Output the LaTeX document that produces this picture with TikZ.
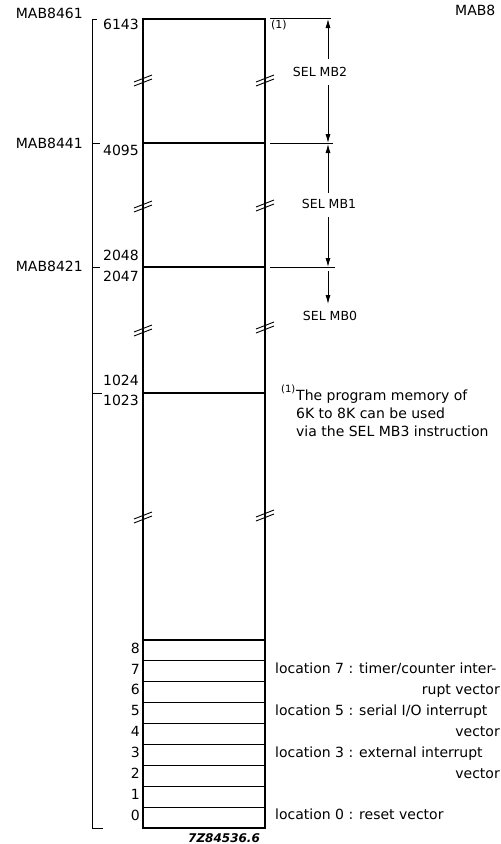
\documentclass[tikz,border=0pt]{standalone}
\usepackage{fontspec}
\setmainfont{DejaVu Sans}
\usetikzlibrary{arrows.meta}
\begin{document}
\begin{tikzpicture}[x=1pt,y=-1pt,
  txt/.style={inner sep=0pt, font=\fontsize{14}{16}\selectfont},
  sel/.style={inner sep=0pt, font=\fontsize{12.5}{14}\selectfont},
  small/.style={inner sep=0pt, font=\fontsize{10}{11}\selectfont},
  boxline/.style={line width=1.6pt},
  inner/.style={line width=1.1pt},
  thin/.style={line width=0.8pt},
  arr/.style={line width=0.8pt, -{Latex[length=9pt,width=5pt]}},
  brk/.pic={\draw[line width=0.9pt] (-9,2) -- (9,-5); \draw[line width=0.9pt] (-9,6) -- (9,-1);}
]
\useasboundingbox (0,0) rectangle (501,844);

% memory box
\coordinate (tl) at (143,19);
\coordinate (br) at (265,828);
\draw[boxline] (tl) rectangle (br);
\foreach \y in {143,267,393}{ \draw[inner] (143,\y) -- (265,\y); }
\foreach \k in {0,...,8}{ \draw[inner] (143,{640+\k*20.89}) -- (265,{640+\k*20.89}); }
\foreach \k in {0,...,8}{ \node[txt, anchor=mid east] (c\k) at (140,{817.5-\k*20.89}) {\k}; }

% break marks
\foreach \p in {(143,80),(265,80),(143,206),(265,205),(143,330),(265,327),(143,517),(265,515)}{ \pic at \p {brk}; }

% bracket
\draw[thin] (97,19) -- (92,19) -- (92,828) -- (103,828);
\draw[thin] (92,143) -- (100,143);
\draw[thin] (92,267) -- (100,267);
\draw[thin] (92,393) -- (102,393);

\node[txt, anchor=mid east] (m61) at (83,16) {MAB8461};
\node[txt, anchor=mid east] (m41) at (83,146) {MAB8441};
\node[txt, anchor=mid east] (m21) at (83,269) {MAB8421};
\node[txt, anchor=mid west] (m8) at (455,13) {MAB8};

\node[txt, anchor=mid east] (a6143) at (139,27) {6143};
\node[txt, anchor=mid east] (a4095) at (139,153) {4095};
\node[txt, anchor=mid east] (a2048) at (139,258) {2048};
\node[txt, anchor=mid east] (a2047) at (139,279) {2047};
\node[txt, anchor=mid east] (a1024) at (139,383) {1024};
\node[txt, anchor=mid east] (a1023) at (139,403) {1023};

% extension lines
\coordinate (e0a) at (270,18); \coordinate (e0b) at (331,18);
\coordinate (e1a) at (270,143); \coordinate (e1b) at (333,143);
\coordinate (e2a) at (270,267); \coordinate (e2b) at (335,267);
\draw[thin] (e0a) -- (e0b);
\draw[thin] (e1a) -- (e1b);
\draw[thin] (e2a) -- (e2b);
\node[inner sep=0pt, font=\fontsize{11}{12}\selectfont, anchor=mid west] (fn1) at (271,26) {(1)};

% SEL arrows
\node[sel] (mb2) at (320,72) {SEL MB2};
\node[sel] (mb1) at (329,204) {SEL MB1};
\node[sel] (mb0) at (330,316) {SEL MB0};
\draw[arr] (328,59) -- (328,19);
\draw[arr] (328,85) -- (328,143);
\draw[arr] (328,193) -- (328,144);
\draw[arr] (328,217) -- (328,267);
\draw[arr] (328,271) -- (328,304);

% footnote
\node[small, anchor=mid west] (fn2) at (281,390) {(1)};
\node[txt, anchor=mid west] (f1) at (296,398) {The program memory of};
\node[txt, anchor=mid west] (f2) at (296,416) {6K to 8K can be used};
\node[txt, anchor=mid west] (f3) at (296,434) {via the SEL MB3 instruction};

% location notes
\node[txt, anchor=mid west] (l7) at (275,671) {location 7 : timer/counter inter-};
\node[txt, anchor=mid east] (l7b) at (500,692) {rupt vector};
\node[txt, anchor=mid west] (l5) at (275,713) {location 5 : serial I/O interrupt};
\node[txt, anchor=mid east] (l5b) at (500,734) {vector};
\node[txt, anchor=mid west] (l3) at (275,755) {location 3 : external interrupt};
\node[txt, anchor=mid east] (l3b) at (500,776) {vector};
\node[txt, anchor=mid west] (l0) at (275,817) {location 0 : reset vector};

\node[inner sep=0pt, font=\fontsize{12}{14}\selectfont\bfseries\itshape] (code) at (224,838) {7Z84536.6};
\end{tikzpicture}
\end{document}
